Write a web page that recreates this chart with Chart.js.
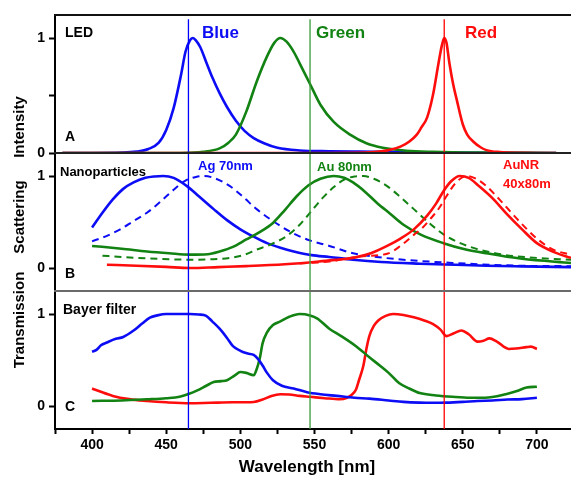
<!DOCTYPE html>
<html><head><meta charset="utf-8">
<script src="https://cdn.jsdelivr.net/npm/chart.js@4/dist/chart.umd.min.js"></script>
<style>html,body{margin:0;padding:0;background:#fff}#wrap{width:571px;height:477px;position:relative}</style>
</head><body><div id="wrap"><canvas id="c"></canvas></div>
<script>
// ---------- DATA ----------
const xTicks = [375,400,425,450,475,500,525,550,575,600,625,650,675,700,725];
const xTickLabels = ['','400','','450','','500','','550','','600','','650','','700',''];
const vLines = [465, 547, 637.5];

// Panel A: LED intensity
const ledBlueWl  = [380,400,420,430,438,445,450,455,460,463,466,468,470,473,477,481,486,491,497,503,509,516,525,540,560,580,600,620,640,680,713];
const ledBlueVal = [0,0,0.003,0.012,0.035,0.09,0.2,0.39,0.68,0.88,0.98,1.0,0.98,0.92,0.79,0.66,0.52,0.4,0.28,0.19,0.13,0.085,0.045,0.022,0.015,0.012,0.01,0.006,0.004,0.002,0];
const ledGreenWl  = [380,460,475,486,492,497,504,511,518,523,527,531,536,540,547,554,563,574,585,596,612,630,660,713];
const ledGreenVal = [0,0,0.01,0.04,0.09,0.16,0.36,0.62,0.84,0.96,1.0,0.97,0.88,0.78,0.6,0.42,0.27,0.16,0.085,0.046,0.02,0.01,0.003,0];
const ledRedWl  = [380,560,590,600,608,614,619,622,626,630,633.5,636,637.5,639,641,643.5,646,650,653,657,662,666,675,690,713];
const ledRedVal = [0,0,0.008,0.025,0.055,0.1,0.16,0.22,0.31,0.51,0.77,0.94,1.0,0.96,0.78,0.6,0.46,0.25,0.16,0.1,0.05,0.025,0.008,0.002,0];

// Panel B: nanoparticle scattering (solid / dashed)
const agSolidWl  = [400,407,414,421,428,436,442,448,455,464,472,482,491,500,509,518,527,536,548,560,576,595,621,645,666,690,723];
const agSolidVal = [0.44,0.6,0.745,0.86,0.93,0.98,0.995,1.0,0.98,0.89,0.78,0.64,0.52,0.42,0.34,0.27,0.22,0.18,0.14,0.12,0.09,0.065,0.047,0.035,0.025,0.018,0.01];
const agDashWl  = [400,410,419,428,437,446,455,463,470,475,482,493,502,511,522,533,545,560,576,592,610,643,688,723];
const agDashVal = [0.29,0.35,0.42,0.51,0.6,0.72,0.85,0.95,0.99,1.0,0.98,0.89,0.77,0.64,0.51,0.4,0.31,0.24,0.16,0.12,0.09,0.055,0.025,0.02];
const auSolidWl  = [400,420,437,452,466,478,486,495,504,513,522,530,538,546,554,563,570,576,584,592,601,610,622,637,650,666,690,723];
const auSolidVal = [0.24,0.21,0.18,0.16,0.145,0.15,0.18,0.23,0.31,0.39,0.49,0.63,0.78,0.9,0.97,1.0,0.98,0.93,0.83,0.71,0.59,0.47,0.36,0.27,0.21,0.16,0.1,0.055];
const auDashWl  = [407,420,437,452,466,480,493,502,511,521,531,540,549,556,563,570,577,583,590,599,608,617,628,639,655,677,700,723];
const auDashVal = [0.134,0.12,0.105,0.095,0.09,0.095,0.11,0.14,0.2,0.26,0.345,0.47,0.64,0.77,0.88,0.96,0.995,1.0,0.97,0.89,0.77,0.64,0.48,0.345,0.23,0.145,0.11,0.09];
const aunrSolidWl  = [410,430,450,466,485,504,530,553,565,576,588,599,608,617,626,632,637,642,648,654,661,670,679,690,700,712,723];
const aunrSolidVal = [0.036,0.025,0.012,0.0,0.01,0.02,0.04,0.07,0.09,0.11,0.16,0.24,0.32,0.42,0.57,0.7,0.835,0.94,1.0,0.98,0.89,0.76,0.6,0.42,0.27,0.17,0.11];
const aunrDashWl  = [540,560,581,599,608,617,623,628,634,639,645,652.5,659,666,675,688,700,711,723];
const aunrDashVal = [0.05,0.07,0.127,0.155,0.24,0.36,0.44,0.53,0.65,0.78,0.92,1.0,0.97,0.89,0.74,0.51,0.32,0.2,0.145];

// Panel C: Bayer filter transmission
const bayBlueWl  = [400,403,406,410,416,421,428,434,439,444,450,457,466,472,477,481,486,491,495,500,505,509,512,515,518,522,528,536,545,554,565,577,587,600,610,621,630,639,650,660,670,680,690,700];
const bayBlueVal = [0.59,0.61,0.66,0.69,0.73,0.75,0.82,0.9,0.96,0.985,1.0,1.0,1.0,0.995,0.98,0.92,0.84,0.74,0.65,0.6,0.57,0.555,0.51,0.44,0.36,0.28,0.22,0.19,0.15,0.128,0.11,0.09,0.08,0.06,0.045,0.037,0.035,0.037,0.045,0.055,0.06,0.07,0.075,0.09];
const bayGreenWl  = [400,420,437,450,459,465,471,477,482,487,491,496,500,504,509,511,513,515,518,522,527,533,540,547,552,560,568,578,587,594,600,607,614,621,632,643,655,665,679,686,693,700];
const bayGreenVal = [0.055,0.06,0.073,0.085,0.1,0.13,0.17,0.22,0.26,0.27,0.28,0.33,0.37,0.36,0.335,0.4,0.51,0.68,0.8,0.88,0.92,0.97,1.0,0.985,0.95,0.84,0.76,0.65,0.53,0.44,0.36,0.25,0.19,0.14,0.115,0.1,0.09,0.09,0.128,0.16,0.2,0.21];
const bayRedWl  = [400,405,414,425,437,450,466,480,495,509,515,521,527,533,540,547,557,567,572,575,578,580,583,585,587,590,593,598,603,610,617,624,630,635,639,644,649,654,660,664,668,673,681,686,693,696,700];
const bayRedVal = [0.19,0.16,0.11,0.075,0.055,0.04,0.03,0.035,0.04,0.044,0.07,0.11,0.128,0.125,0.11,0.1,0.085,0.073,0.09,0.12,0.18,0.28,0.44,0.62,0.76,0.87,0.93,0.98,1.0,0.99,0.965,0.93,0.89,0.83,0.76,0.79,0.82,0.78,0.7,0.71,0.735,0.7,0.62,0.625,0.64,0.645,0.62];

// ---------- CHART ----------
const BLUE = '#0c0cf5', GREEN = '#128212', RED = '#ff0d0d';
const pts = (xs, ys) => xs.map((x, i) => ({x, y: ys[i]}));
const line = (xs, ys, color, axis, dash) => ({
  data: pts(xs, ys), yAxisID: axis, borderColor: color, borderWidth: dash ? 2 : 2.6,
  borderDash: dash ? [7, 5] : [], pointRadius: 0, fill: false,
  cubicInterpolationMode: 'monotone', tension: 0.4
});
const vline = (x, color) => ({
  data: [{x, y: 0}, {x, y: 0.99}], yAxisID: 'yV', borderColor: color, borderWidth: 1.3,
  pointRadius: 0, fill: false, tension: 0
});

const FONT = '"Liberation Sans", Arial, sans-serif';
const annotations = [
  {t:'LED', x:65, y:33, s:14, c:'#000'},
  {t:'A', x:65, y:137, s:14, c:'#000'},
  {t:'Blue', x:202, y:33, s:17, c:BLUE},
  {t:'Green', x:316, y:33, s:17, c:GREEN},
  {t:'Red', x:465, y:33, s:17, c:RED},
  {t:'Nanoparticles', x:60, y:172, s:13, c:'#000'},
  {t:'Ag 70nm', x:198, y:166, s:13, c:BLUE},
  {t:'Au 80nm', x:317, y:167, s:13, c:GREEN},
  {t:'AuNR', x:503, y:165, s:13, c:RED},
  {t:'40x80m', x:503, y:184, s:13, c:RED},
  {t:'B', x:65, y:274, s:14, c:'#000'},
  {t:'Bayer filter', x:63, y:310, s:14, c:'#000'},
  {t:'C', x:65, y:407, s:14, c:'#000'}
];
const yTitles = [
  {t:'Intensity', x:20, y:127},
  {t:'Scattering', x:20, y:217},
  {t:'Transmission', x:20, y:320}
];

const decor = {
  id: 'decor',
  afterDraw(chart) {
    const ctx = chart.ctx, ca = chart.chartArea, s = chart.scales;
    ctx.save();
    const h = (y, col) => { ctx.strokeStyle = col; ctx.lineWidth = 2; ctx.beginPath(); ctx.moveTo(ca.left - 1, y); ctx.lineTo(ca.right, y); ctx.stroke(); };
    h(s.yA.top, '#111'); h(s.yB.top, '#222'); h(s.yC.top, '#6a6a6a');
    ctx.textAlign = 'left'; ctx.textBaseline = 'middle';
    for (const a of annotations) { ctx.font = `bold ${a.s}px ${FONT}`; ctx.fillStyle = a.c; ctx.fillText(a.t, a.x, a.y); }
    ctx.font = `bold 15px ${FONT}`; ctx.fillStyle = '#000'; ctx.textAlign = 'center';
    for (const t of yTitles) { ctx.save(); ctx.translate(t.x, t.y); ctx.rotate(-Math.PI / 2); ctx.fillText(t.t, 0, 0); ctx.restore(); }
    ctx.font = `bold 17px ${FONT}`;
    ctx.fillText('Wavelength [nm]', 307, 467);
    ctx.restore();
  }
};

const yAxis = (min, max, ticks, labels) => ({
  type: 'linear', position: 'left', stack: 'panels', stackWeight: 1, min, max,
  afterFit: sc => { sc.width = 55; },
  afterBuildTicks: sc => { sc.ticks = ticks.map(v => ({value: v})); },
  ticks: { callback: (v) => labels[ticks.indexOf(v)] ?? '', font: {family: FONT, size: 14, weight: 'bold'}, color: '#000', padding: 4, autoSkip: false },
  grid: { drawOnChartArea: false, tickLength: 6, tickColor: '#000', tickWidth: 2 },
  border: { color: '#000', width: 2 }
});

new Chart(document.getElementById('c'), {
  type: 'line',
  data: { datasets: [
    vline(vLines[0], '#0000ff'), vline(vLines[1], '#3a9a3a'), vline(vLines[2], '#ff0000'),
    line(ledRedWl, ledRedVal, RED, 'yA'), line(ledGreenWl, ledGreenVal, GREEN, 'yA'), line(ledBlueWl, ledBlueVal, BLUE, 'yA'),
    line(aunrSolidWl, aunrSolidVal, RED, 'yB'), line(aunrDashWl, aunrDashVal, RED, 'yB', true),
    line(auSolidWl, auSolidVal, GREEN, 'yB'), line(auDashWl, auDashVal, GREEN, 'yB', true),
    line(agSolidWl, agSolidVal, BLUE, 'yB'), line(agDashWl, agDashVal, BLUE, 'yB', true),
    line(bayBlueWl, bayBlueVal, BLUE, 'yC'), line(bayGreenWl, bayGreenVal, GREEN, 'yC'), line(bayRedWl, bayRedVal, RED, 'yC')
  ]},
  options: {
    responsive: true, maintainAspectRatio: false, animation: false, devicePixelRatio: 1,
    layout: { padding: { top: 15, left: 0, right: 0, bottom: 0 } },
    plugins: { legend: { display: false }, tooltip: { enabled: false } },
    scales: {
      x: {
        type: 'linear', min: 375, max: 723,
        afterFit: sc => { sc.height = 48; },
        afterBuildTicks: sc => { sc.ticks = xTicks.filter(v => v <= 723).map(v => ({value: v})); },
        ticks: { callback: v => xTickLabels[xTicks.indexOf(v)] ?? '', font: {family: FONT, size: 14, weight: 'bold'}, color: '#000', padding: 3, maxRotation: 0, autoSkip: false },
        grid: { drawOnChartArea: false, tickLength: 5, tickColor: '#000', tickWidth: 2 },
        border: { color: '#000', width: 2 }
      },
      yC: yAxis(-0.25, 1.25, [0, 1], ['0', '1']),
      yB: yAxis(-0.25, 1.25, [0, 1], ['0', '1']),
      yA: yAxis(0, 1.2, [0, 0.5, 1], ['0', '', '1']),
      yV: { type: 'linear', position: 'right', display: false, min: 0, max: 1 }
    }
  },
  plugins: [decor]
});
</script>
</body></html>
